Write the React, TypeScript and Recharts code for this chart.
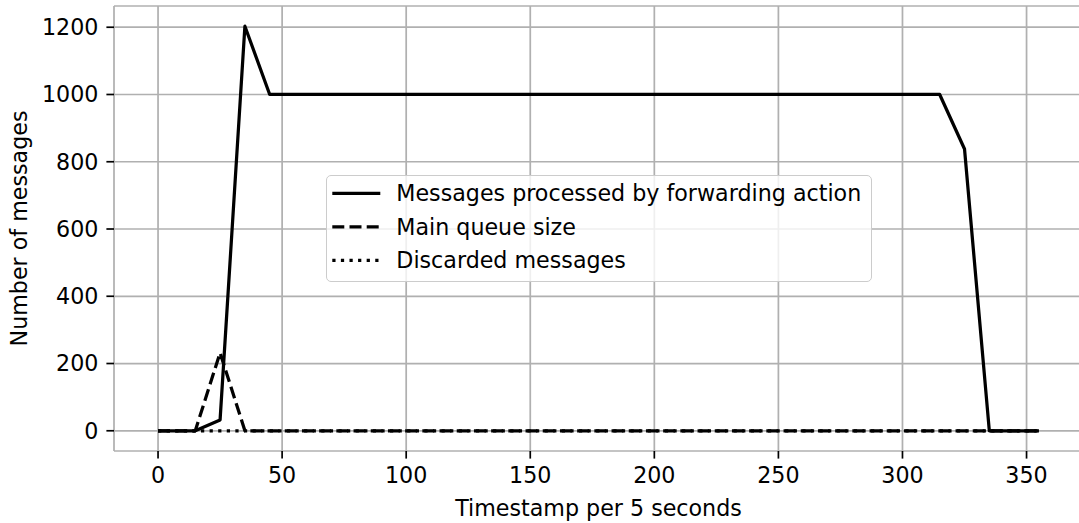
import { LineChart, Line, XAxis, YAxis, CartesianGrid, Legend, Label } from "recharts";

const FONT = "'DejaVu Sans', sans-serif";
const FS = 22.2;

const timestamps = [
  0, 5, 15, 25, 35, 45, 55, 65, 75, 85, 95, 105, 115, 125, 135, 145, 155, 165, 175,
  185, 195, 205, 215, 225, 235, 245, 255, 265, 275, 285, 295, 305, 315, 325, 335, 345, 355,
];

const processed = [
  0, 0, 0, 32, 1203, 1000, 1000, 1000, 1000, 1000, 1000, 1000, 1000, 1000, 1000, 1000, 1000,
  1000, 1000, 1000, 1000, 1000, 1000, 1000, 1000, 1000, 1000, 1000, 1000, 1000, 1000, 1000,
  1000, 838, 0, 0, 0,
];

const queueSize = [
  0, 0, 0, 232, 0, 0, 0, 0, 0, 0, 0, 0, 0, 0, 0, 0, 0, 0, 0, 0, 0, 0, 0, 0, 0, 0, 0, 0, 0,
  0, 0, 0, 0, 0, 0, 0, 0,
];

const discarded = [
  0, 0, 0, 0, 0, 0, 0, 0, 0, 0, 0, 0, 0, 0, 0, 0, 0, 0, 0, 0, 0, 0, 0, 0, 0, 0, 0, 0, 0,
  0, 0, 0, 0, 0, 0, 0, 0,
];

const xTicks = [0, 50, 100, 150, 200, 250, 300, 350];
const yTicks = [0, 200, 400, 600, 800, 1000, 1200];

const SERIES = [
  { key: "processed", name: "Messages processed by forwarding action", dash: undefined as string | undefined },
  { key: "queue", name: "Main queue size", dash: "12 5.2" },
  { key: "discarded", name: "Discarded messages", dash: "3.24 5.35" },
];

const data = timestamps.map((x, i) => ({
  x,
  processed: processed[i],
  queue: queueSize[i],
  discarded: discarded[i],
}));

const LINE_W = 3.24;

function BoxLegend() {
  const rows = [17.3, 50.8, 84.3];
  return (
    <div
      style={{
        width: 546,
        height: 107,
        boxSizing: "border-box",
        border: "1.7px solid #cccccc",
        borderRadius: 5,
        background: "rgba(255,255,255,0.8)",
      }}
    >
      <svg width={543} height={104} style={{ display: "block" }}>
        {SERIES.map((s, i) => (
          <g key={s.key}>
            <line
              x1={5.3}
              x2={53.3}
              y1={rows[i]}
              y2={rows[i]}
              stroke="#000"
              strokeWidth={LINE_W}
              strokeDasharray={s.dash}
            />
            <text x={69.3} y={rows[i] + 8} fontSize={FS} fontFamily={FONT} fill="#000">
              {s.name}
            </text>
          </g>
        ))}
      </svg>
    </div>
  );
}

export default function App() {
  const tickStyle = { fill: "#000", fontSize: FS, fontFamily: FONT };
  return (
    <div style={{ position: "absolute", left: 0, top: 0, width: 1079, height: 523, overflow: "hidden", background: "#fff" }}>
      <LineChart width={1090} height={523} data={data} margin={{ top: 6, right: 7, bottom: 0, left: 0 }}>
        <CartesianGrid stroke="#b0b0b0" strokeWidth={1.73} />
        <XAxis
          type="number"
          dataKey="x"
          domain={[-17.75, 372.75]}
          ticks={xTicks}
          interval={0}
          height={72}
          axisLine={false}
          tickLine={{ stroke: "#000", strokeWidth: 1.7 }}
          tickSize={7.6}
          tickMargin={9}
          tick={tickStyle}
        >
          <Label
            content={(props: any) => {
              const vb = props.viewBox || { x: 114, y: 451, width: 969, height: 72 };
              return (
                <text x={vb.x + vb.width / 2} y={vb.y + vb.height - 7.3} textAnchor="middle" fontSize={FS} fontFamily={FONT} fill="#000">
                  Timestamp per 5 seconds
                </text>
              );
            }}
          />
        </XAxis>
        <YAxis
          type="number"
          domain={[-60.15, 1263.15]}
          ticks={yTicks}
          interval={0}
          width={114}
          axisLine={false}
          tickLine={{ stroke: "#000", strokeWidth: 1.7 }}
          tickSize={7.6}
          tickMargin={8}
          tick={tickStyle}
        >
          <Label
            content={(props: any) => {
              const vb = props.viewBox || { x: 0, y: 6, width: 114, height: 445 };
              const cy = vb.y + vb.height / 2;
              return (
                <text x={26.7} y={cy} transform={`rotate(-90 26.7 ${cy})`} textAnchor="middle" fontSize={FS} fontFamily={FONT} fill="#000">
                  Number of messages
                </text>
              );
            }}
          />
        </YAxis>
        {SERIES.map((s) => (
          <Line
            key={s.key}
            type="linear"
            dataKey={s.key}
            name={s.name}
            stroke="#000"
            strokeWidth={LINE_W}
            strokeDasharray={s.dash}
            strokeLinejoin="round"
            dot={false}
            activeDot={false}
            isAnimationActive={false}
          />
        ))}
        <Legend
          layout="vertical"
          align="center"
          verticalAlign="middle"
          content={<BoxLegend />}
          wrapperStyle={{ left: 326, top: 175, width: 546, height: 107, margin: 0 }}
        />
      </LineChart>
    </div>
  );
}
